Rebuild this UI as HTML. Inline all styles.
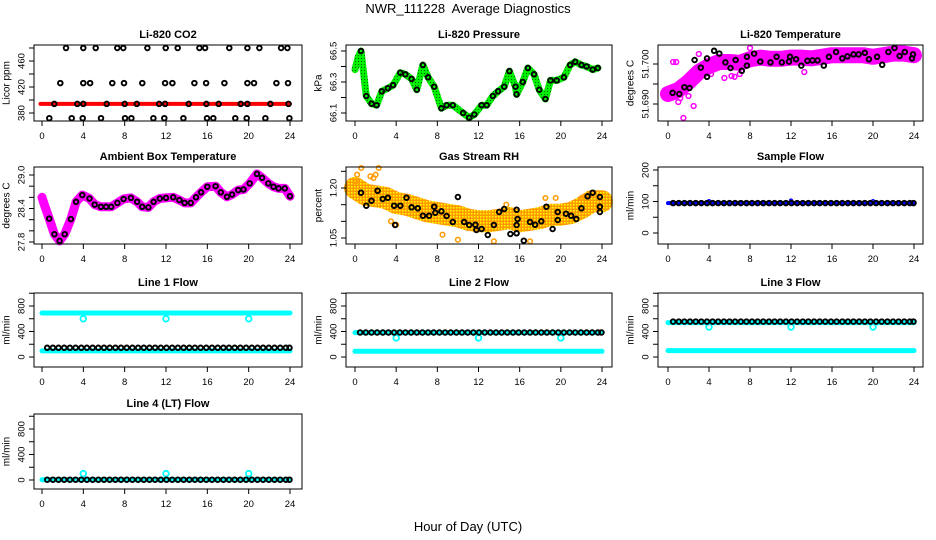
<!DOCTYPE html>
<html><head><meta charset="utf-8"><style>
html,body{margin:0;padding:0;background:#fff;width:936px;height:540px;overflow:hidden}
svg{display:block;font-family:"Liberation Sans",Arial,sans-serif}
</style></head><body>
<svg id="chart" width="936" height="540" viewBox="0 0 936 540">
<defs>
<pattern id="rhpat" width="3" height="3" patternUnits="userSpaceOnUse"><rect width="3" height="3" fill="#ff9900"/><rect x="0" y="0" width="1.5" height="1.5" fill="#ffff00"/></pattern>
<pattern id="prpat" width="3" height="3" patternUnits="userSpaceOnUse"><rect width="3" height="3" fill="#00ee00"/><rect x="1" y="1" width="1" height="1" fill="#006600"/></pattern>
</defs>
<text x="468" y="13" text-anchor="middle" font-size="13">NWR_111228&#160; Average Diagnostics</text>
<text x="468" y="531" text-anchor="middle" font-size="13">Hour of Day (UTC)</text>
</svg>
<script>
// ---------- data ----------
const xTicks = [0,4,8,12,16,20,24];
// CO2
const co2BlackH = [2.32,4.0,5.2,7.29,7.87,10.2,11.97,13.13,15.23,15.78,18.13,19.88,21.04,23.14,23.75,
 1.77,4.0,4.65,6.8,7.94,9.71,11.91,12.62,14.75,15.88,17.65,19.88,20.52,22.68,23.81,
 1.19,3.42,4.0,6.26,8.0,9.17,11.33,11.91,14.2,15.91,17.1,19.23,19.88,22.1,23.85,
 0.71,2.87,3.94,5.71,8.03,8.65,10.78,11.84,13.68,15.97,16.58,18.71,19.81,21.62,23.94];
const co2BlackV = [480,480,480,480,480,480,480,480,480,480,480,480,480,480,480,
 426,426,426,426,426,426,426,426,426,426,426,426,426,426,426,
 394,394,394,394,394,394,394,394,394,394,394,394,394,394,394,
 372,372,372,372,372,372,372,372,372,372,372,372,372,372,372];
const co2RedH = [-0.15,24];
const co2RedV = [394,394];
const co2Ticks = [380,400,420,440,460,480];
const co2Labels = ["380","","420","","460",""];
// Pressure
const presH = [0.58,1.1,1.6,2.1,2.6,3.2,3.7,4.4,4.9,5.5,6.0,6.6,7.1,7.7,8.4,8.9,9.5,10.5,11.1,11.6,12.3,12.8,13.4,13.9,14.5,15.0,15.6,15.7,16.3,16.8,17.4,17.9,18.5,19.0,19.6,20.3,20.9,21.4,22.0,22.5,23.1,23.6];
const presV = [66.50,66.21,66.16,66.15,66.24,66.26,66.28,66.36,66.35,66.32,66.25,66.41,66.33,66.27,66.13,66.15,66.15,66.10,66.07,66.09,66.15,66.15,66.21,66.24,66.27,66.37,66.27,66.22,66.30,66.39,66.35,66.25,66.19,66.31,66.31,66.33,66.41,66.43,66.41,66.40,66.38,66.39];
const presLeadH = [0,0.3];
const presLeadV = [66.38,66.46];
const presTicks = [66.1,66.2,66.3,66.4,66.5];
const presLabels = ["66.1","","66.3","","66.5"];
// Li-820 temperature
const ltH = [0.45,1.1,1.6,2.1,2.6,3.2,3.8,3.8,4.5,5.0,5.6,6.1,6.6,7.2,7.7,7.7,8.4,9.0,10.0,10.6,11.1,11.8,11.9,12.5,13.0,13.6,14.1,14.6,15.2,15.7,16.4,17.0,17.5,18.1,18.6,19.2,19.6,20.4,20.9,21.5,22.1,22.6,23.1,23.8,23.9];
const ltV = [51.6928,51.6925,51.6942,51.694,51.701,51.6991,51.7014,51.6968,51.7033,51.7026,51.7004,51.699,51.701,51.6983,51.6996,51.7018,51.7026,51.7006,51.7004,51.7018,51.7004,51.7006,51.7018,51.7012,51.6996,51.7008,51.7009,51.7009,51.6996,51.7018,51.703,51.7014,51.7019,51.7024,51.7024,51.7028,51.7012,51.7018,51.6998,51.703,51.704,51.702,51.703,51.7014,51.7024];
const ltMagH = [0,1,2,3,4,5,6,7,8,9,10,11,12,13,14,15,16,17,18,19,20,21,22,23,24];
const ltMagV = [51.6925,51.6935,51.6955,51.698,51.6995,51.7005,51.7005,51.7003,51.7012,51.7016,51.7013,51.7013,51.7016,51.7016,51.7014,51.7018,51.7022,51.7022,51.7022,51.7022,51.7018,51.7022,51.7026,51.7026,51.7022];
const ltOutH = [0.5,0.8,1.5,1.0,2.0,3.0,5.5,6.2,7.0,13.3,8.0,0.2,1.2,2.5,4.2,6.5];
const ltOutV = [51.7005,51.7005,51.6865,51.6905,51.692,51.7025,51.6965,51.697,51.6975,51.698,51.704,51.6935,51.6915,51.6895,51.6975,51.6968];
const ltTicks = [51.690,51.695,51.700];
const ltLabels = ["51.690","","51.700"];
// Ambient
const ambH = [0.7,1.2,1.7,2.2,2.8,3.3,3.9,4.6,5.1,5.7,6.2,6.7,7.3,7.9,8.6,9.2,9.7,10.3,10.8,11.4,12.0,12.7,13.3,13.8,14.4,14.9,15.4,16.0,16.8,17.3,17.9,18.4,19.0,19.5,20.1,20.8,21.3,21.9,22.4,22.9,23.5,24.0];
const ambV = [28.22,27.94,27.82,27.94,28.21,28.52,28.64,28.58,28.47,28.43,28.43,28.43,28.50,28.57,28.59,28.52,28.43,28.42,28.52,28.58,28.59,28.60,28.55,28.50,28.50,28.60,28.69,28.79,28.80,28.69,28.61,28.65,28.73,28.74,28.85,29.02,28.95,28.85,28.79,28.76,28.76,28.62];
const ambLeadH = [0,0.2];
const ambLeadV = [28.6,28.48];
const ambTicks = [27.8,28.0,28.2,28.4,28.6,28.8,29.0];
const ambLabels = ["27.8","","","28.4","","","29.0"];
// RH
const rhH = [0.58,1.1,1.6,2.2,2.7,3.2,3.8,3.9,4.4,5.0,5.5,6.1,6.6,7.2,7.7,7.8,8.4,8.9,9.5,10.0,10.6,11.1,11.7,11.8,12.3,12.9,13.5,14.0,14.5,15.1,15.7,15.7,15.8,15.7,16.4,17.0,17.5,18.1,18.6,19.2,19.7,19.7,20.5,21.0,21.5,22.0,22.6,23.1,23.8,23.8,23.8];
const rhV = [1.186,1.147,1.162,1.192,1.167,1.171,1.147,1.089,1.147,1.171,1.142,1.139,1.117,1.117,1.144,1.126,1.13,1.116,1.098,1.173,1.098,1.089,1.09,1.074,1.077,1.059,1.089,1.128,1.137,1.062,1.064,1.089,1.107,1.135,1.042,1.098,1.09,1.1,1.144,1.077,1.104,1.128,1.123,1.117,1.107,1.139,1.175,1.186,1.173,1.144,1.128];
const rhBandH = [0,1,2,3,4,5,6,7,8,9,10,11,12,13,14,15,16,17,18,19,20,21,22,23,24];
const rhBandV = [1.20,1.18,1.175,1.17,1.155,1.15,1.14,1.13,1.125,1.12,1.115,1.105,1.10,1.10,1.105,1.11,1.10,1.105,1.11,1.12,1.12,1.125,1.14,1.16,1.16];
const rhOutH = [0.2,0.6,2.3,1.8,2.0,4.0,3.5,8.5,10.0,13.5,17.0,18.5,22.0,22.8,19.5,14.7,0.1,1.5];
const rhOutV = [1.24,1.26,1.26,1.23,1.24,1.09,1.10,1.06,1.045,1.04,1.04,1.17,1.17,1.18,1.17,1.15,1.22,1.235];
const rhTicks = [1.05,1.10,1.15,1.20,1.25];
const rhLabels = ["1.05","","","1.20",""];
// Flows
const flowHours = [0.5,1.05,1.6,2.15,2.7,3.25,3.8,4.35,4.9,5.45,6.0,6.55,7.1,7.65,8.2,8.75,9.3,9.85,10.4,10.95,11.5,12.05,12.6,13.15,13.7,14.25,14.8,15.35,15.9,16.45,17.0,17.55,18.1,18.65,19.2,19.75,20.3,20.85,21.4,21.95,22.5,23.05,23.6,23.95];
const eventHours = [4,12,20];
const sampleBlack = [95];
const sampleBlue = [95];
const sampleEvents = [101,103,101];
const sampleTicks = [0,50,100,150,200];
const sampleLabels = ["0","","100","","200"];
const flowTicks = [0,200,400,600,800,1000];
const flowLabels = ["0","","400","","800",""];
const line1Black = [145]; const line1CyanHi = [690]; const line1CyanLo = [95]; const line1Events = [600,600,600];
const line2Black = [385]; const line2CyanHi = [382]; const line2CyanLo = [90]; const line2Events = [300,300,300];
const line3Black = [555]; const line3CyanHi = [540]; const line3CyanLo = [100]; const line3Events = [470,470,470];
const line4Black = [5]; const line4CyanHi = [5]; const line4Events = [100,100,100];

// ---------- layout ----------
const NS = "http://www.w3.org/2000/svg";
const svg = document.getElementById('chart');
const COLS=[{l:34,r:302,x0:42,x24:290},{l:346,r:612,x0:355,x24:602},{l:658,r:923,x0:668,x24:914}];
const ROWS=[{t:45,b:121},{t:167,b:244},{t:293,b:367},{t:414,b:489}];
function mk(tag, attrs, parent){const e=document.createElementNS(NS,tag);for(const k in attrs)e.setAttribute(k,attrs[k]);(parent||svg).appendChild(e);return e;}

function panel(id,col,row,title,ylab,v1,p1,v2,p2,ticks,labels){
  const C=COLS[col],R=ROWS[row];
  const g=mk('g',{});
  
  
  const sx=h=>C.x0+h*(C.x24-C.x0)/24;
  const sy=v=>p1+(v-v1)*(p2-p1)/(v2-v1);
  const t=mk('text',{x:(C.l+C.r)/2,y:R.t-7,'text-anchor':'middle','font-size':'11','font-weight':'bold'},g);
  t.textContent=title;
  
  
  const yl=mk('text',{x:C.l-27,y:(R.t+R.b)/2,'text-anchor':'middle','dominant-baseline':'central','font-size':'10',transform:`rotate(-90 ${C.l-27} ${(R.t+R.b)/2})`},g);
  yl.textContent=ylab;
  
  
  const plot=mk('g',{},g);
  
  
  const box=mk('rect',{x:C.l,y:R.t,width:C.r-C.l,height:R.b-R.t,fill:'none',stroke:'#000','stroke-width':1},g);
  
  
  xTicks.forEach(h=>{
    const x=sx(h);
    const tk=mk('line',{x1:x,x2:x,y1:R.b,y2:R.b+5,stroke:'#000'},g);
    
    
    const lb=mk('text',{x:x,y:R.b+18,'text-anchor':'middle','font-size':'9.5'},g);
    lb.textContent=String(h);
    
    
  });
  ticks.forEach((v,i)=>{
    const y=sy(v);
    const tk=mk('line',{x1:C.l-5,x2:C.l,y1:y,y2:y,stroke:'#000'},g);
    
    
    if(labels[i]){
      const lb=mk('text',{x:C.l-12,y:y,'text-anchor':'middle','dominant-baseline':'central','font-size':'9.5',transform:`rotate(-90 ${C.l-12} ${y})`},g);
      lb.textContent=labels[i];
      
      
    }
  });
  return {sx,sy,plot,C,R};
}
function band(P,hs,vs,color,w,name){
  const d=hs.map((h,i)=>(i?'L':'M')+P.sx(h).toFixed(1)+' '+P.sy(vs[i]).toFixed(1)).join(' ');
  const p=mk('path',{d:d,fill:'none',stroke:color,'stroke-width':w,'stroke-linejoin':'round','stroke-linecap':'round'},P.plot);
  
  
}
function pts(P,hs,vs,color,r,sw,name){
  hs.forEach((h,i)=>{
    const c=mk('circle',{cx:P.sx(h).toFixed(1),cy:P.sy(vs[i]).toFixed(1),r:r,fill:'none',stroke:color,'stroke-width':sw},P.plot);
    
    
  });
}
function lvl(hs,val){return hs.map(()=>val);}

// CO2
let P=panel('co2',0,0,'Li-820 CO2','Licor ppm',380,113,460,61,co2Ticks,co2Labels);
band(P,co2RedH,co2RedV,'#ff0000',4,'co2-red-series');
pts(P,co2BlackH,co2BlackV,'#000',2.3,1.9,'co2-black-point');
// Pressure
P=panel('pressure',1,0,'Li-820 Pressure','kPa',66.1,113,66.5,51,presTicks,presLabels);
band(P,presLeadH.concat(presH),presLeadV.concat(presV),'url(#prpat)',7,'pressure-green-series');
pts(P,presH,presV,'#000',2.3,1.9,'pressure-black-point');
// Li temp
P=panel('li-temp',2,0,'Li-820 Temperature','degrees C',51.690,104,51.700,64,ltTicks,ltLabels);
band(P,ltMagH,ltMagV,'#ff00ff',16,'li-temp-magenta-series');
pts(P,ltOutH,ltOutV,'#ff00ff',2.4,1.5,'li-temp-magenta-point');
pts(P,ltH,ltV,'#000',2.3,1.9,'li-temp-black-point');
// Ambient
P=panel('ambient',0,1,'Ambient Box Temperature','degrees C',27.8,242,29.0,175,ambTicks,ambLabels);
band(P,ambLeadH.concat(ambH),ambLeadV.concat(ambV),'#ff00ff',9,'ambient-magenta-series');
pts(P,ambH,ambV,'#000',2.3,1.9,'ambient-black-point');
// RH
P=panel('rh',1,1,'Gas Stream RH','percent',1.05,238,1.20,188,rhTicks,rhLabels);
band(P,rhBandH,rhBandV,'url(#rhpat)',22,'rh-orange-series');
pts(P,rhOutH,rhOutV,'#ff9900',2.3,1.5,'rh-orange-point');
pts(P,rhH,rhV,'#000',2.3,1.9,'rh-black-point');
// Sample flow
P=panel('sample-flow',2,1,'Sample Flow','ml/min',0,233,200,170,sampleTicks,sampleLabels);
band(P,[0,24],lvl([0,24],sampleBlue[0]),'#0000ff',4,'sample-flow-blue-series');
pts(P,eventHours,sampleEvents,'#0000ff',1.5,1.5,'sample-flow-blue-point');
pts(P,flowHours,lvl(flowHours,sampleBlack[0]),'#000',2.3,1.9,'sample-flow-black-point');
// Line flows
function flowPanel(id,col,row,title,black,hi,lo,ev,z0){
  const Q=panel(id,col,row,title,'ml/min',0,z0,800,z0-51,flowTicks,flowLabels);
  band(Q,[0,24],lvl([0,24],hi[0]),'#00ffff',5,id+'-cyan-series');
  if(lo) band(Q,[0,24],lvl([0,24],lo[0]),'#00ffff',5,id+'-cyan-low-series');
  pts(Q,eventHours,ev,'#00ffff',2.8,1.8,id+'-cyan-event-point');
  pts(Q,flowHours,lvl(flowHours,black[0]),'#000',2.3,1.9,id+'-black-point');
}
flowPanel('line1-flow',0,2,'Line 1 Flow',line1Black,line1CyanHi,line1CyanLo,line1Events,357);
flowPanel('line2-flow',1,2,'Line 2 Flow',line2Black,line2CyanHi,line2CyanLo,line2Events,357);
flowPanel('line3-flow',2,2,'Line 3 Flow',line3Black,line3CyanHi,line3CyanLo,line3Events,357);
flowPanel('line4-flow',0,3,'Line 4 (LT) Flow',line4Black,line4CyanHi,null,line4Events,480);
</script>
</body></html>
